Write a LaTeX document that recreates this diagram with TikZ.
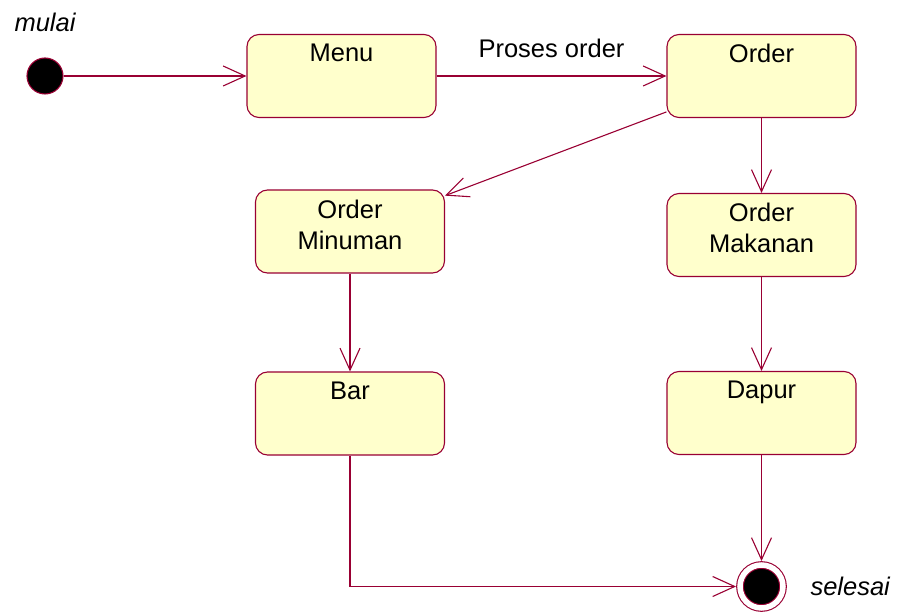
\documentclass[tikz,border=0pt]{standalone}
\usepackage{fontspec}
\setmainfont{Liberation Sans}
\usetikzlibrary{positioning,arrows.meta}
\definecolor{umlline}{HTML}{990033}
\definecolor{umlfill}{HTML}{FFFFCC}
\tikzset{
  statebox/.style={draw=umlline,fill=umlfill,rounded corners=12pt,line width=1.1pt,
    minimum width=189pt,minimum height=83pt},
  boxtext/.style={anchor=north,align=center,inner sep=3pt,label distance=-7pt,
    font=\fontsize{25.5}{31}\selectfont},
  initialstate/.style={circle,draw=umlline,fill=black,minimum size=36pt,line width=1.1pt},
  finalstate/.style={circle,draw=umlline,fill=black,double=white,double distance=5.5pt,
    minimum size=43pt,line width=1.1pt,outer sep=4pt},
  statename/.style={font=\itshape\fontsize{25.5}{31}\selectfont}
}
\begin{document}
\begin{tikzpicture}[x=1pt,y=-1pt,on grid,
    >={Straight Barb[length=22pt,width=20pt,line width=1.1pt]}]
  \useasboundingbox (0,0) rectangle (900,612);
  \node[initialstate,label={[statename,label distance=22pt]above:mulai}] (mulai) at (45,76) {};
  \node[statebox,label={[boxtext]north:Menu}] (menu) [right=296.5pt of mulai] {};
  \node[statebox,label={[boxtext]north:Order}] (order) [right=420pt of menu] {};
  \node[statebox,label={[boxtext]north:Order\\Minuman}] (minuman) at (350,231.5) {};
  \node[statebox,label={[boxtext]north:Order\\Makanan}] (makanan) [below=159pt of order] {};
  \node[statebox,label={[boxtext]north:Bar}] (bar) [below=182pt of minuman] {};
  \node[statebox,label={[boxtext]north:Dapur}] (dapur) [below=178pt of makanan] {};
  \node[finalstate,label={[statename,label distance=20pt]right:selesai}] (selesai) [below=173.5pt of dapur] {};
  \path[->,draw=umlline,line width=1.1pt]
    (mulai) edge (menu)
    (menu) edge node[above=14pt,text=black,font=\fontsize{25.5}{31}\selectfont] {Proses order} (order)
    (order) edge (minuman)
    (order) edge (makanan)
    (minuman) edge (bar)
    (makanan) edge (dapur)
    (dapur) edge (selesai);
  \draw[->,draw=umlline,line width=1.1pt] (bar) |- (selesai);
\end{tikzpicture}
\end{document}
